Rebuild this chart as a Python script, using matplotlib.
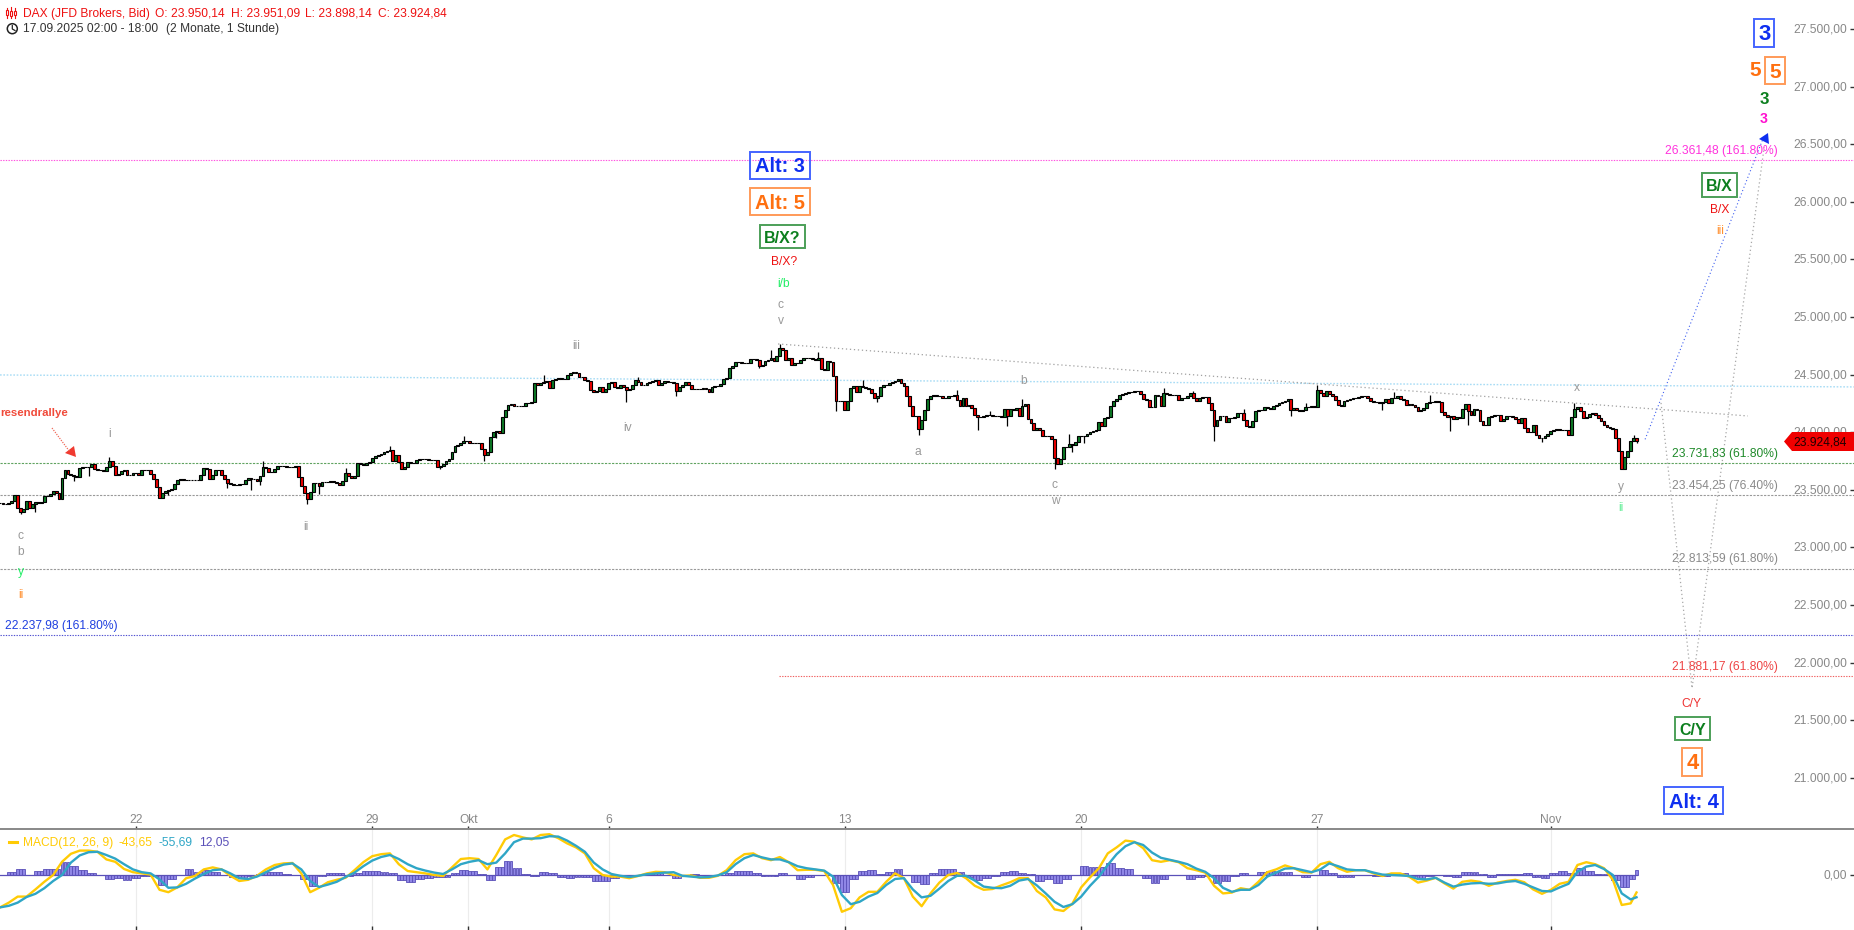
import numpy as np
import matplotlib
matplotlib.use("Agg")
import matplotlib.pyplot as plt
from matplotlib.patches import Rectangle, Polygon, Circle
from matplotlib.lines import Line2D
from matplotlib.transforms import ScaledTranslation

plt.rcParams['font.family'] = ['Liberation Sans', 'DejaVu Sans']

W, H = 1854, 930
PANE = 829
px = lambda n: n * 0.72

# ---------------------------------------------------------------- data
close = [
 23385,23375,23380,23385,23400,23457,23341,23304,23330,23399,
 23345,23380,23391,23385,23390,23445,23448,23460,23486,23470,
 23419,23602,23674,23640,23625,23622,23615,23690,23697,23700,
 23695,23726,23680,23675,23675,23665,23700,23746,23710,23631,
 23635,23660,23670,23630,23625,23645,23650,23625,23670,23668,
 23670,23640,23590,23525,23428,23470,23490,23495,23510,23553,
 23587,23590,23585,23585,23585,23582,23585,23585,23625,23690,
 23680,23590,23625,23670,23675,23630,23590,23555,23550,23544,
 23540,23550,23550,23585,23600,23595,23590,23575,23620,23697,
 23690,23651,23655,23680,23705,23710,23705,23700,23698,23700,
 23709,23610,23530,23470,23420,23480,23558,23560,23530,23564,
 23570,23572,23573,23565,23560,23540,23575,23650,23620,23605,
 23620,23730,23725,23718,23735,23745,23775,23790,23804,23810,
 23830,23835,23842,23750,23800,23745,23680,23700,23745,23735,
 23735,23755,23770,23765,23768,23760,23760,23755,23700,23710,
 23725,23750,23770,23830,23880,23885,23905,23925,23920,23905,
 23905,23908,23905,23850,23800,23830,23960,24000,24010,23992,
 24130,24190,24238,24245,24230,24228,24225,24230,24255,24255,
 24258,24424,24410,24424,24438,24447,24381,24453,24462,24473,
 24462,24462,24496,24511,24525,24511,24482,24482,24453,24444,
 24366,24352,24358,24389,24346,24375,24424,24438,24395,24381,
 24412,24392,24369,24375,24412,24455,24432,24412,24412,24426,
 24432,24441,24450,24412,24426,24441,24432,24432,24426,24354,
 24392,24412,24432,24412,24375,24375,24375,24375,24383,24375,
 24346,24392,24397,24403,24420,24461,24470,24557,24571,24612,
 24606,24600,24600,24600,24635,24635,24629,24577,24586,24615,
 24623,24643,24615,24664,24730,24716,24629,24643,24586,24600,
 24600,24629,24643,24643,24643,24635,24623,24643,24548,24542,
 24615,24606,24484,24267,24267,24267,24195,24267,24383,24397,
 24346,24397,24392,24383,24375,24340,24296,24317,24392,24412,
 24412,24426,24432,24441,24461,24426,24397,24311,24224,24143,
 24143,24027,24108,24195,24288,24317,24325,24311,24311,24296,
 24296,24311,24311,24325,24282,24224,24296,24230,24238,24209,
 24151,24131,24131,24143,24151,24151,24143,24137,24137,24131,
 24201,24143,24201,24195,24209,24137,24230,24247,24114,24079,
 24021,24036,24021,23969,23963,23963,23940,23775,23726,23767,
 23871,23871,23900,23891,23911,23963,23969,23963,23987,23998,
 24007,24021,24085,24050,24123,24131,24224,24267,24288,24325,
 24334,24340,24346,24346,24354,24354,24334,24288,24282,24218,
 24218,24325,24317,24230,24340,24334,24325,24325,24325,24282,
 24296,24296,24317,24340,24296,24267,24296,24305,24305,24253,
 24195,24050,24102,24143,24143,24085,24123,24123,24131,24166,
 24166,24108,24050,24045,24094,24181,24189,24195,24218,24209,
 24201,24230,24238,24253,24259,24267,24288,24189,24209,24195,
 24181,24189,24218,24218,24224,24218,24369,24340,24317,24354,
 24334,24317,24282,24238,24230,24267,24282,24288,24296,24299,
 24305,24311,24317,24296,24273,24264,24259,24253,24259,24288,
 24253,24296,24296,24311,24288,24276,24238,24241,24238,24218,
 24181,24195,24209,24253,24259,24264,24267,24264,24172,24152,
 24131,24137,24114,24131,24123,24201,24247,24181,24152,24201,
 24195,24094,24065,24065,24131,24137,24152,24152,24094,24114,
 24137,24137,24131,24114,24079,24123,24036,23998,23998,24065,
 23978,23949,23949,23964,23987,24007,24021,24027,24021,24021,
 24016,23978,24131,24201,24218,24181,24123,24128,24160,24166,
 24152,24123,24094,24065,24045,24036,24027,23949,23833,23680,
 23784,23833,23925,23950,23925]

wick_high = {37:23784,89:23746,117:23689,132:23882,157:23964,184:24496,216:24478,261:24710,
             264:24768,277:24693,292:24455,324:24369,335:24180,346:24288,362:23987,394:24383,
             404:24354,421:24201,442:24253,446:24412,472:24345,484:24325,533:24253,553:23978}
wick_low = {7:23289,12:23304,25:23573,30:23622,57:23457,77:23515,85:23500,88:23544,104:23379,
            108:23466,149:23680,164:23746,168:23950,212:24265,229:24311,257:24557,283:24180,
            297:24259,311:23978,331:24016,341:24050,357:23680,363:23825,367:23910,411:23920,
            437:24143,468:24189,491:24007,497:24065,522:23911,554:23905}

macd = [
 -81,-69,-54,-54,-36,-17,0,33,53,61,61,58,39,33,15,7,4,1,-37,-43,-31,-8,-2.5,14,19,14,-2,-15,-12,-2,
 14,25,29,30,4,-43,-32,-18,-12,-7,12,32,47,52,54,27,10,7,4,0,-2.5,19,40,42,40,14,50,89,100,94,
 89,100,102,92,79,69,54,17,0,-4,-4,-8,-2.5,4,8,7,0,-2.5,-1,-7,-7,-2,12,37,52,54,42,37,45,32,
 12,13,13,10,-25,-92,-83,-56,-42,-42,-17,4,-8,-54,-78,-46,-19,0,5,-8,-27,-37,-35,-26,-18,-8,-8,-40,
 -56,-86,-90,-72,-31,-6,17,54,69,86,83,67,37,33,37,32,17,12,6,-27,-46,-44,-33,-37,-17,7,14,24,
 17,7,6,27,33,17,8,12,12,4,-2.5,4,4,-4,-19,-14,-7,-21,-34,-17,-14,-17,-27,-19,-15,-12,-18,-36,
 -47,-37,-22,-17,25,32,27,17,-12,-75,-71,-43.65]
signal = [
 -81,-77,-69,-55,-47,-33,-15,0,31,49,57,58,50,41,27,14,7,4,-11,-32,-31,-22,-9,2.5,12,14,4,-8,-10,-4,
 7,18,26,29,14,-15,-30,-24,-17,-5,6,22,36,45,50,40,27,17,11,6,2.5,14,27,33,37,27,31,54,82,91,
 91,92,97,96,86,73,58,31,14,2.5,-2,-5,-2,2,4,6,7,-2,-4,-6,-5,-1,7,27,42,50,44,39,39,32,
 22,17,14,11,-4,-50,-73,-67,-54,-45,-25,-10,-8,-36,-56,-52,-34,-15,-2,-2,-14,-29,-32,-33,-27,-14,-10,-26,
 -46,-67,-80,-73,-54,-27,-4,25,52,72,82,75,56,43,38,33,27,16,8,-8,-32,-42,-37,-37,-25,-4,6,16,
 17,12,7,14,29,22,14,12,12,6,1,0,-1,-2.5,-10,-11,-7,-19,-29,-24,-21,-20,-22,-21,-17,-15,-22,-31,
 -40,-41,-31,-22,8,21,25,15,0,-46,-61,-55.69]
macd_bars = list(range(0, 555, 3)) + [554]

date_ticks = [46, 126, 158.5, 206, 286, 366, 446, 525]
date_labels = ['22', '29', 'Okt', '6', '13', '20', '27', 'Nov']
price_ticks = [27500,27000,26500,26000,25500,25000,24500,24000,23500,23000,22500,22000,21500,21000]
price_labels = ['27.500,00','27.000,00','26.500,00','26.000,00','25.500,00','25.000,00','24.500,00',
                '24.000,00','23.500,00','23.000,00','22.500,00','22.000,00','21.500,00','21.000,00']
level_magenta = 26361.48
level_green = 23731.83
level_grey1 = 23454.25
level_grey2 = 22813.59
level_blue = 22237.98
level_red = 21881.17
last_price = 23924.84

# ---------------------------------------------------------------- axes
fig = plt.figure(figsize=(W/100, H/100), dpi=100, facecolor='white')
ax = fig.add_axes([0, (H-PANE)/H, 1, PANE/H])
low = fig.add_axes([0, 0, 1, (H-PANE)/H])
ov = fig.add_axes([0, 0, 1, 1], zorder=10)
ov.set_xlim(0, W); ov.set_ylim(H, 0); ov.axis('off'); ov.patch.set_alpha(0)

up1 = ScaledTranslation(0, 1/100, fig.dpi_scale_trans)

xlim = (0, W/2.954)
ax.set_xlim(*xlim)
ax.set_ylim(27500-(PANE-29)/0.1152, 27500+29/0.1152)
for s in ax.spines.values():
    s.set_visible(False)
ax.set_yticks(price_ticks, price_labels)
ax.yaxis.tick_right()
ax.tick_params(axis='y', direction='in', length=3, width=1, color='#333333', pad=-5,
               labelsize=px(12), labelcolor='#888888')
for t in ax.get_yticklabels():
    t.set_ha('right')
    t.set_transform(t.get_transform() + up1)
ax.set_xticks(date_ticks, date_labels)
ax.tick_params(axis='x', direction='in', length=2, width=1, color='#333333', pad=-2,
               labelsize=px(12), labelcolor='#888888')
for t in ax.get_xticklabels():
    t.set_va('bottom')

# ---------------------------------------------------------------- levels
dot = (0, (1.2, 1.2))
sparse = (0, (1, 2.2))
ax.axhline(level_magenta, color='#ff4fe0', lw=0.8, ls=dot, zorder=1)
ax.axhline(level_green, color='#5fa35f', lw=0.8, ls=(0, (2, 1.2)), zorder=1)
ax.axhline(level_grey1, color='#999999', lw=0.8, ls=(0, (2, 1.2)), zorder=1)
ax.axhline(level_grey2, color='#999999', lw=0.8, ls=(0, (2, 1.2)), zorder=1)
ax.axhline(level_blue, color='#5050d0', lw=0.8, ls=dot, zorder=1)
ax.plot([263.7, xlim[1]], [level_red, level_red], color='#f06060', lw=0.8, ls=dot, zorder=1)
ax.plot([0, xlim[1]], [24497, 24393], color='#a8dcf5', lw=1.0, ls=dot, zorder=1)
ax.plot([263.4, 591.7], [24766, 24141], color='#a0a0a0', lw=0.9, ls=sparse, zorder=1)
ax.plot([556.9, 596.6], [23938, 26533], color='#4060f0', lw=0.8, ls=sparse, zorder=1)
ax.plot([562.3, 572.8, 597.2], [24254, 21778, 26473], color='#a8a8a8', lw=0.9, ls=sparse, zorder=1)

# ---------------------------------------------------------------- candles
x = np.arange(len(close))
c = np.array(close, float)
o = np.r_[c[0], c[:-1]]
cols = np.where(c >= o, '#0c7a26', '#f00000')
ax.vlines(list(wick_high), [max(o[i], c[i]) for i in wick_high], list(wick_high.values()),
          color='black', lw=0.9, zorder=3)
ax.vlines(list(wick_low), [min(o[i], c[i]) for i in wick_low], list(wick_low.values()),
          color='black', lw=0.9, zorder=3)
ax.bar(x, c-o, bottom=o, width=0.95, color=cols, edgecolor='black', linewidth=0.8, zorder=4)

# ---------------------------------------------------------------- MACD pane
low.set_xlim(*xlim)
low.set_ylim(-137.5, 115)
for n, s in low.spines.items():
    s.set_visible(n == 'top')
low.spines['top'].set_color('#888888')
low.spines['top'].set_linewidth(1.4)
low.set_xticks(date_ticks, [''] * len(date_ticks))
low.tick_params(axis='x', direction='in', length=3, width=1, color='#333333')
low.grid(axis='x', color='#ececec', lw=0.8)
low.set_axisbelow(True)
low.set_yticks([0], ['0,00'])
low.yaxis.tick_right()
low.tick_params(axis='y', direction='in', length=3, width=1, color='#333333', pad=-5,
                labelsize=px(12), labelcolor='#888888')
for t in low.get_yticklabels():
    t.set_ha('right')
    t.set_transform(t.get_transform() + up1)
m = np.array(macd, float)
s_ = np.array(signal, float)
hist = m - s_
hist_bars = np.arange(len(close))
hist_each = hist[np.searchsorted(macd_bars, hist_bars, side='right') - 1]
low.bar(hist_bars, hist_each, width=0.95, color='#8f86e6', edgecolor='#5a50b8', linewidth=0.6, zorder=2)
low.plot([0, 554], [0, 0], color='#5a50b8', lw=0.9, zorder=2)
low.plot(macd_bars, m, color='#ffcb05', lw=1.7, zorder=3)
low.plot(macd_bars, s_, color='#2fa6c6', lw=1.7, zorder=4)

# ---------------------------------------------------------------- text helpers
def T(x_, y_, s, color='#999999', size=12, weight='normal', ha='center', **kw):
    return ov.text(x_, y_ + 1, s, color=color, fontsize=px(size), fontweight=weight,
                   ha=ha, va='center', **kw)

def box(x0, x1, y0, y1, s, color, edge, size):
    ov.add_patch(Rectangle((x0, y0), x1-x0, y1-y0, fill=False, ec=edge, lw=1.4))
    T((x0+x1)/2, (y0+y1)/2+0.5, s, color=color, size=size, weight='bold')

BLUE, BL2 = '#0f2ff0', '#4464ff'
OR, OR2 = '#ff7010', '#ff9a58'
GR, GR2 = '#0c7f1e', '#4c9f58'

# header
T(23, 12.5, 'DAX (JFD Brokers, Bid)', color='#ee1111', ha='left')
T(155, 12.5, 'O: 23.950,14', color='#ee1111', ha='left')
T(231, 12.5, 'H: 23.951,09', color='#ee1111', ha='left')
T(305, 12.5, 'L: 23.898,14', color='#ee1111', ha='left')
T(378, 12.5, 'C: 23.924,84', color='#ee1111', ha='left')
T(23, 28.2, '17.09.2025 02:00 - 18:00', color='#333333', ha='left')
T(166, 28.2, '(2 Monate, 1 Stunde)', color='#333333', ha='left')
for xx, y0, y1, b0, b1 in [(7.5, 8, 18, 10, 15), (11.5, 7, 18, 11, 16), (15.5, 8, 18, 11, 15)]:
    ov.add_line(Line2D([xx, xx], [y0, y1], color='#ee1111', lw=0.8))
    ov.add_patch(Rectangle((xx-1, b0), 2, b1-b0, fc='white', ec='#ee1111', lw=0.8, zorder=3))
ov.add_patch(Circle((12.3, 28.7), 5, fill=False, ec='#222222', lw=1.1))
ov.add_line(Line2D([12.3, 12.3, 15], [25.5, 29, 30.5], color='#222222', lw=0.9))

# legend of MACD
ov.add_line(Line2D([9, 17], [842, 842], color='#ffcb05', lw=2.2))
T(23, 841.5, 'MACD(12, 26, 9)', color='#ffcb05', ha='left')
T(119, 841.5, '-43,65', color='#ffcb05', ha='left')
T(159, 841.5, '-55,69', color='#2fa6c6', ha='left')
T(199, 841.5, '12,05', color='#5a50b8', ha='left')

# last price tag
ov.add_patch(Polygon([(1784, 441.5), (1792, 432), (1854, 432), (1854, 451), (1792, 451)],
                     fc='#f00000', ec='none', zorder=5))
T(1847, 441, '23.924,84', color='#200000', ha='right', zorder=6)

# level labels
T(1778, 150, '26.361,48 (161.80%)', color='#ff33dd', ha='right')
T(1778, 453, '23.731,83 (61.80%)', color='#1f8a2a', ha='right')
T(1778, 484.5, '23.454,25 (76.40%)', color='#8a8a8a', ha='right')
T(1778, 557.5, '22.813,59 (61.80%)', color='#8a8a8a', ha='right')
T(5, 625, '22.237,98 (161.80%)', color='#2040e0', ha='left')
T(1778, 665.5, '21.881,17 (61.80%)', color='#ee4444', ha='right')

# big boxes, middle
box(750, 810, 152, 179, 'Alt: 3', BLUE, BL2, 20)
box(750, 810, 188, 215, 'Alt: 5', OR, OR2, 20)
box(760, 805, 225, 248, 'B/X?', GR, GR2, 16)
T(784, 261, 'B/X?', color='#ee1111')
T(784, 283, 'i/b', color='#22ee66')
T(781, 304, 'c')
T(781, 320, 'v')

# right upper stack
box(1754.5, 1774.5, 19.5, 47.5, '3', BLUE, BL2, 22)
T(1755, 70, '5', color=OR, size=21, weight='bold')
box(1765.5, 1785.5, 57, 84, '5', OR, OR2, 21)
T(1764, 98, '3', color=GR, size=17, weight='bold')
T(1764, 118, '3', color='#ff10d0', size=14, weight='bold')
ov.add_patch(Polygon([(1759, 139), (1768, 133), (1769, 144)], fc='#0f2ff0', ec='none'))
box(1702, 1737, 173.5, 197, 'B/X', GR, GR2, 16)
T(1720, 209, 'B/X', color='#ee1111')
T(1720, 230, 'iii', color='#ff9030')

# right lower stack
T(1691, 703, 'C/Y', color='#ee3333')
box(1675, 1710, 717, 740, 'C/Y', GR, GR2, 16)
box(1682.5, 1702.5, 748, 776, '4', OR, OR2, 22)
box(1664.5, 1723.5, 787, 814, 'Alt: 4', BLUE, BL2, 20)

# wave labels
T(110, 433, 'i')
T(306, 526, 'ii')
T(21, 535, 'c')
T(21, 551, 'b')
T(21, 571, 'y', color='#22ee66')
T(21, 594, 'ii', color='#ff9030')
T(576, 345, 'iii')
T(628, 427, 'iv')
T(918, 451, 'a')
T(1024, 380, 'b')
T(1055, 484, 'c')
T(1055, 500, 'w')
T(1577, 387, 'x')
T(1621, 486, 'y')
T(1621, 507, 'ii', color='#66ee99')

# visible part of the Jahresendrallye note
T(0, 412, 'resendrallye', color='#f04a3a', ha='left', weight='bold', size=11.4)
ov.add_line(Line2D([52, 70], [428, 452], color='#f06a5a', lw=0.9, ls=(0, (1, 1))))
ov.add_patch(Polygon([(65, 453), (74, 446), (76, 457)], fc='#f03a30', ec='none'))

fig.savefig('out.png', dpi=100, facecolor='white')
